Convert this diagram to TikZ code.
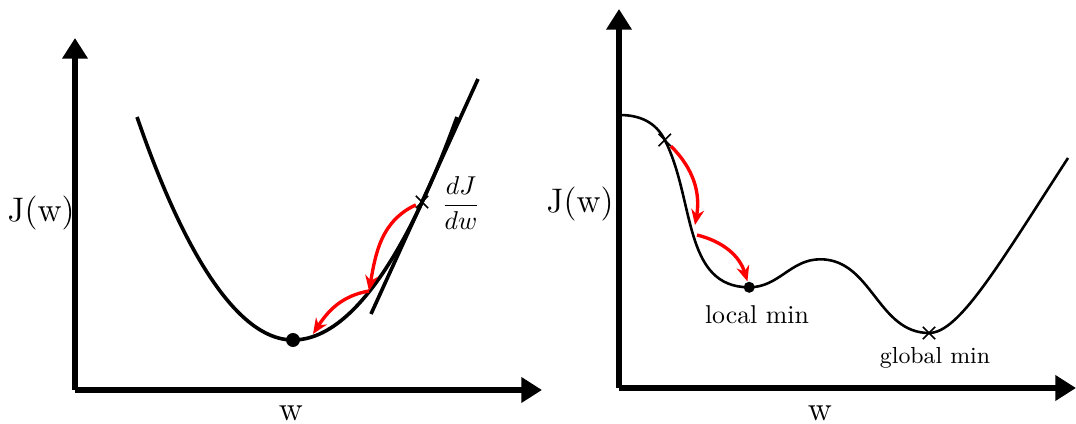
\documentclass[tikz,border=0pt]{standalone}
\usetikzlibrary{arrows.meta,shapes.misc}

\begin{document}
\begin{tikzpicture}[x=0.13623cm,y=0.13623cm,
  axis/.style={line width=2pt,-{Triangle[length=8pt,width=9.5pt]}},
  cost/.style={line width=1.3pt},
  descent/.style={red,line width=1.3pt,-{Stealth[length=6pt,width=5pt]}},
  xmark/.style={cross out,draw,line width=0.6pt,minimum size=4.2pt,inner sep=0pt},
  ball/.style={circle,fill,inner sep=0pt,minimum size=#1},
  axlabel/.style={font=\fontsize{13.2}{16}\selectfont}]
\useasboundingbox (0,0) rectangle (107.6,42.4);

% left: convex cost
\coordinate (o1) at (7.5,3.4);
\coordinate (ytop1) at (7.5,38.6);
\coordinate (xend1) at (54.2,3.4);
\draw[axis] (o1) -- (ytop1);
\draw[axis] (o1) -- (xend1);
\node[axlabel] (jlab1) at (4.1,21.1) {J(w)};
\node[axlabel] (wlab1) at (29.1,1.1) {w};
\draw[cost,line width=1.4pt] (13.7,30.7) parabola bend (29.3,8.4) (45.7,30.7);
\draw[cost,line width=1.4pt] (37.1,11.0) -- (47.8,34.5);
\node[xmark] (start1) at (42.2,22.2) {};
\node[ball=5.4pt] (min1) at (29.3,8.4) {};
\node (slope) at (46.1,22.1) {$\displaystyle\frac{dJ}{dw}$};
\coordinate (step1) at (36.9,13.3);
\coordinate (step2) at (31.3,9.0);
\draw[descent] (start1) to[out=205,in=80] (step1);
\draw[descent] (step1) to[out=190,in=57] (step2);

% right: non-convex cost
\coordinate (o2) at (61.9,3.6);
\coordinate (ytop2) at (61.9,41.5);
\coordinate (xend2) at (107.6,3.6);
\draw[axis] (o2) -- (ytop2);
\draw[axis] (o2) -- (xend2);
\node[axlabel] (jlab2) at (58.0,22.0) {J(w)};
\node[axlabel] (wlab2) at (82.0,1.1) {w};
\coordinate (c0) at (61.93,30.9);
\coordinate (c1) at (66.48,28.4);
\coordinate (c2) at (74.92,13.67);
\coordinate (c3) at (82.03,16.47);
\coordinate (c4) at (92.9,9.1);
\coordinate (c5) at (106.8,26.6);
\draw[cost,line width=1pt] (c0) to[out=0,in=117] (c1) to[out=-63,in=180] (c2)
  to[out=0,in=180] (c3) to[out=0,in=180] (c4)
  .. controls +(3,0) and +(-7,-10.8) .. (c5);
\node[xmark] (start2) at (c1) {};
\node[ball=4.3pt] (locmin) at (c2) {};
\node[xmark] (globmin) at (c4) {};
\node (loclab) at (75.7,10.9) {local min};
\node[font=\small] (globlab) at (93.5,6.6) {global min};
\coordinate (hop1) at (69.5,19.9);
\coordinate (hop2) at (69.7,18.9);
\draw[descent] (start2) to[out=-45,in=80] (hop1);
\draw[descent] (hop2) to[out=-14,in=107] (locmin);
\end{tikzpicture}
\end{document}
